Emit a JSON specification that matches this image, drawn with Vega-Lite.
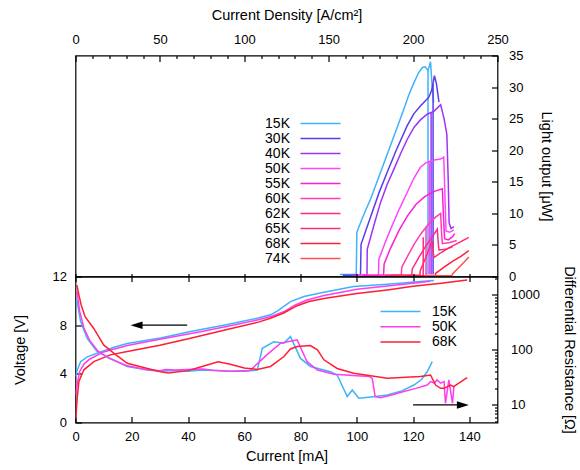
{
  "$schema": "https://vega.github.io/schema/vega-lite/v6.json",
  "padding": {"left": 10.5, "top": 6.5, "right": 0, "bottom": 0},
  "spacing": 0,
  "bounds": "flush",
  "config": {
    "view": {"stroke": "#000", "strokeWidth": 1.2},
    "font": "Liberation Sans",
    "axis": {"labelFont": "Liberation Sans", "titleFont": "Liberation Sans", "labelFontSize": 13, "titleFontSize": 14.5, "titleFontWeight": "normal", "labelColor": "#000", "titleColor": "#000", "tickColor": "#000", "tickWidth": 1.2, "domain": false, "grid": false, "labelOverlap": false, "labelFlush": false},
    "legend": {"labelFont": "Liberation Sans", "labelFontSize": 14, "labelColor": "#000", "padding": 0}
  },
  "datasets": {
    "L": [
      {"s":"15K","x":94,"y":0.3},{"s":"15K","x":99.8,"y":0.3},{"s":"15K","x":100,"y":7},{"s":"15K","x":102,"y":9.3},{"s":"15K","x":105,"y":12.4},{"s":"15K","x":108,"y":16},{"s":"15K","x":111,"y":19.6},{"s":"15K","x":114,"y":23.2},{"s":"15K","x":116.7,"y":26.5},{"s":"15K","x":118.5,"y":28.8},{"s":"15K","x":120.3,"y":30.7},{"s":"15K","x":122,"y":32.3},{"s":"15K","x":123.3,"y":33.1},{"s":"15K","x":124.3,"y":33.2},{"s":"15K","x":125.3,"y":32.6},{"s":"15K","x":126.2,"y":34},{"s":"15K","x":126.7,"y":30.5},{"s":"15K","x":127.3,"y":27.6},
      {"s":"15K","g":1,"x":125.3,"y":32.6},{"s":"15K","g":1,"x":125.3,"y":0.3},
      {"s":"30K","x":95,"y":0.2},{"s":"30K","x":101.3,"y":0.2},{"s":"30K","x":101.5,"y":5.1},{"s":"30K","x":105,"y":9.6},{"s":"30K","x":108,"y":13.4},{"s":"30K","x":110.8,"y":16.5},{"s":"30K","x":114,"y":20},{"s":"30K","x":117.9,"y":23.9},{"s":"30K","x":120.3,"y":25.8},{"s":"30K","x":122.6,"y":27},{"s":"30K","x":124.3,"y":27.8},{"s":"30K","x":125.6,"y":28.4},{"s":"30K","x":126.6,"y":29.5},{"s":"30K","x":127.6,"y":31.8},{"s":"30K","x":128.3,"y":30.5},{"s":"30K","x":129.2,"y":27.6},
      {"s":"30K","g":1,"x":127.1,"y":30.5},{"s":"30K","g":1,"x":127.1,"y":0.3},
      {"s":"40K","x":98,"y":0.2},{"s":"40K","x":103.6,"y":0.2},{"s":"40K","x":103.7,"y":4.3},{"s":"40K","x":106,"y":8},{"s":"40K","x":108.4,"y":11.7},{"s":"40K","x":110.8,"y":14.6},{"s":"40K","x":113.2,"y":17},{"s":"40K","x":115.5,"y":19.4},{"s":"40K","x":117.9,"y":21.7},{"s":"40K","x":120.3,"y":23.6},{"s":"40K","x":122.6,"y":24.8},{"s":"40K","x":125,"y":25.7},{"s":"40K","x":127.5,"y":26.2},{"s":"40K","x":129.8,"y":27.2},{"s":"40K","x":131,"y":25},{"s":"40K","x":132,"y":22.5},{"s":"40K","x":132.5,"y":15},{"s":"40K","x":132.8,"y":8.5},{"s":"40K","x":133.5,"y":7.6},{"s":"40K","x":134.5,"y":7.9},
      {"s":"40K","g":1,"x":126.4,"y":25.9},{"s":"40K","g":1,"x":126.4,"y":0.3},
      {"s":"50K","x":100,"y":0.2},{"s":"50K","x":107.7,"y":0.2},{"s":"50K","x":107.8,"y":2.7},{"s":"50K","x":110,"y":5.3},{"s":"50K","x":112,"y":7.5},{"s":"50K","x":115,"y":10.6},{"s":"50K","x":117.9,"y":13.3},{"s":"50K","x":120.3,"y":15.6},{"s":"50K","x":122.6,"y":17.3},{"s":"50K","x":124.5,"y":18},{"s":"50K","x":126.2,"y":18.3},{"s":"50K","x":128,"y":18.5},{"s":"50K","x":129.8,"y":18.6},{"s":"50K","x":130.9,"y":18.9},{"s":"50K","x":131.3,"y":13},{"s":"50K","x":131.7,"y":7.2},{"s":"50K","x":133,"y":7},{"s":"50K","x":134.5,"y":7.4},
      {"s":"50K","g":1,"x":125.8,"y":18.2},{"s":"50K","g":1,"x":125.8,"y":0.3},
      {"s":"55K","x":102,"y":0.2},{"s":"55K","x":109.5,"y":0.2},{"s":"55K","x":109.7,"y":2},{"s":"55K","x":112,"y":4.5},{"s":"55K","x":115,"y":7.3},{"s":"55K","x":118,"y":9.6},{"s":"55K","x":121,"y":11.4},{"s":"55K","x":124,"y":12.6},{"s":"55K","x":127,"y":13.4},{"s":"55K","x":130.4,"y":13.9},{"s":"55K","x":130.8,"y":9.5},{"s":"55K","x":131.2,"y":6},{"s":"55K","x":132.5,"y":5.8},{"s":"55K","x":134,"y":6.3},{"s":"55K","x":134.8,"y":6.8},
      {"s":"60K","x":108,"y":0.2},{"s":"60K","x":115.8,"y":0.2},{"s":"60K","x":116,"y":1.5},{"s":"60K","x":118,"y":3.2},{"s":"60K","x":120.5,"y":5.2},{"s":"60K","x":123,"y":6.9},{"s":"60K","x":125.5,"y":8.3},{"s":"60K","x":128,"y":9.4},{"s":"60K","x":129.8,"y":10},{"s":"60K","x":130.1,"y":7},{"s":"60K","x":130.4,"y":5.2},{"s":"60K","x":133,"y":5.4},{"s":"60K","x":135.5,"y":5.7},
      {"s":"60K","g":1,"x":124.6,"y":7.9},{"s":"60K","g":1,"x":124.6,"y":0.2},
      {"s":"62K","x":110,"y":0.2},{"s":"62K","x":119.5,"y":0.2},{"s":"62K","x":119.7,"y":1.2},{"s":"62K","x":122,"y":3},{"s":"62K","x":124.5,"y":4.8},{"s":"62K","x":127,"y":6.4},{"s":"62K","x":128.6,"y":7.5},{"s":"62K","x":128.9,"y":5.5},{"s":"62K","x":129.2,"y":4.2},{"s":"62K","x":131.5,"y":4.3},{"s":"62K","x":134,"y":4.7},
      {"s":"62K","g":1,"x":123.6,"y":6.2},{"s":"62K","g":1,"x":123.6,"y":0.2},
      {"s":"65K","x":112,"y":0.2},{"s":"65K","x":122.4,"y":0.2},{"s":"65K","x":122.6,"y":1},{"s":"65K","x":124.5,"y":3},{"s":"65K","x":126.8,"y":5.6},{"s":"65K","x":127.1,"y":4},{"s":"65K","x":127.4,"y":3},{"s":"65K","x":130,"y":3.8},{"s":"65K","x":133,"y":4.6},{"s":"65K","x":136.5,"y":5.4},{"s":"65K","x":139.8,"y":6.2},
      {"s":"68K","x":118,"y":0.1},{"s":"68K","x":127.9,"y":0.1},{"s":"68K","x":128,"y":0.5},{"s":"68K","x":131,"y":1.5},{"s":"68K","x":134,"y":2.4},{"s":"68K","x":137,"y":3.2},{"s":"68K","x":139.8,"y":4.1},
      {"s":"74K","x":124,"y":0.1},{"s":"74K","x":133.8,"y":0.1},{"s":"74K","x":134,"y":0.4},{"s":"74K","x":136,"y":1.3},{"s":"74K","x":138,"y":2.2},{"s":"74K","x":139.8,"y":3.1}
    ],
    "V": [
      {"s":"15K","x":0.1,"y":3.8},{"s":"15K","x":0.6,"y":4.3},{"s":"15K","x":1.8,"y":5.0},{"s":"15K","x":4.2,"y":5.4},{"s":"15K","x":8.9,"y":5.8},{"s":"15K","x":14,"y":6.2},{"s":"15K","x":18.4,"y":6.5},{"s":"15K","x":30.2,"y":6.95},{"s":"15K","x":40.9,"y":7.48},{"s":"15K","x":52.7,"y":8.0},{"s":"15K","x":64.6,"y":8.57},{"s":"15K","x":69.3,"y":8.85},{"s":"15K","x":72,"y":9.2},{"s":"15K","x":76.4,"y":9.94},{"s":"15K","x":81.2,"y":10.35},{"s":"15K","x":88.3,"y":10.7},{"s":"15K","x":98.9,"y":11.17},{"s":"15K","x":110.8,"y":11.37},{"s":"15K","x":122.6,"y":11.58},{"s":"15K","x":127.4,"y":11.68},
      {"s":"50K","x":0.1,"y":2.3},{"s":"50K","x":0.6,"y":3.2},{"s":"50K","x":1.5,"y":4.2},{"s":"50K","x":3,"y":4.8},{"s":"50K","x":5,"y":5.2},{"s":"50K","x":10,"y":5.8},{"s":"50K","x":18.4,"y":6.33},{"s":"50K","x":30,"y":6.85},{"s":"50K","x":44.4,"y":7.45},{"s":"50K","x":55,"y":7.95},{"s":"50K","x":65,"y":8.45},{"s":"50K","x":70,"y":8.75},{"s":"50K","x":74,"y":9.1},{"s":"50K","x":77.6,"y":9.6},{"s":"50K","x":82,"y":10.05},{"s":"50K","x":88.3,"y":10.43},{"s":"50K","x":100,"y":10.95},{"s":"50K","x":110,"y":11.2},{"s":"50K","x":120,"y":11.45},{"s":"50K","x":126,"y":11.6},
      {"s":"68K","x":0.1,"y":0.3},{"s":"68K","x":0.6,"y":2},{"s":"68K","x":1.2,"y":3.37},{"s":"68K","x":3,"y":4.33},{"s":"68K","x":6.5,"y":5.0},{"s":"68K","x":12.4,"y":5.56},{"s":"68K","x":18.4,"y":5.83},{"s":"68K","x":30,"y":6.35},{"s":"68K","x":40.9,"y":6.93},{"s":"68K","x":55,"y":7.7},{"s":"68K","x":65,"y":8.25},{"s":"68K","x":69.3,"y":8.57},{"s":"68K","x":74,"y":9},{"s":"68K","x":78.8,"y":9.6},{"s":"68K","x":83,"y":9.95},{"s":"68K","x":88.3,"y":10.2},{"s":"68K","x":100,"y":10.6},{"s":"68K","x":110.8,"y":10.9},{"s":"68K","x":120,"y":11.2},{"s":"68K","x":130,"y":11.45},{"s":"68K","x":139.2,"y":11.72}
    ],
    "R": [
      {"s":"15K","x":0.5,"y":800},{"s":"15K","x":1.8,"y":330},{"s":"15K","x":4.2,"y":160},{"s":"15K","x":7.7,"y":93},{"s":"15K","x":12.4,"y":70},{"s":"15K","x":18.4,"y":50},{"s":"15K","x":25.5,"y":43},{"s":"15K","x":30.2,"y":41},{"s":"15K","x":35,"y":42},{"s":"15K","x":40,"y":41},{"s":"15K","x":45,"y":43},{"s":"15K","x":50,"y":42},{"s":"15K","x":55,"y":41},{"s":"15K","x":60,"y":41},{"s":"15K","x":64.6,"y":43},{"s":"15K","x":66.4,"y":107},{"s":"15K","x":70.5,"y":140},{"s":"15K","x":74,"y":132},{"s":"15K","x":76.4,"y":174},{"s":"15K","x":80,"y":70},{"s":"15K","x":83.5,"y":50},{"s":"15K","x":90.6,"y":40},{"s":"15K","x":93,"y":35},{"s":"15K","x":96.6,"y":14.2},{"s":"15K","x":98.4,"y":18.7},{"s":"15K","x":100.7,"y":13.2},{"s":"15K","x":105,"y":14},{"s":"15K","x":110.8,"y":15.2},{"s":"15K","x":116,"y":18},{"s":"15K","x":120.3,"y":23},{"s":"15K","x":123,"y":29},{"s":"15K","x":125,"y":40},{"s":"15K","x":126.8,"y":61},
      {"s":"50K","x":0.5,"y":1150},{"s":"50K","x":1.5,"y":500},{"s":"50K","x":3,"y":250},{"s":"50K","x":5,"y":150},{"s":"50K","x":8,"y":95},{"s":"50K","x":12,"y":70},{"s":"50K","x":18,"y":52},{"s":"50K","x":25,"y":44},{"s":"50K","x":30,"y":42},{"s":"50K","x":32,"y":44},{"s":"50K","x":35,"y":43},{"s":"50K","x":40,"y":44},{"s":"50K","x":45,"y":45},{"s":"50K","x":50,"y":42},{"s":"50K","x":55,"y":41},{"s":"50K","x":62,"y":42},{"s":"50K","x":68,"y":81},{"s":"50K","x":72.9,"y":132},{"s":"50K","x":78.8,"y":152},{"s":"50K","x":82.3,"y":61},{"s":"50K","x":86,"y":43},{"s":"50K","x":92,"y":36},{"s":"50K","x":100,"y":34},{"s":"50K","x":104.5,"y":33},{"s":"50K","x":105.5,"y":30},{"s":"50K","x":106.5,"y":14.2},{"s":"50K","x":108.4,"y":13.5},{"s":"50K","x":112,"y":15},{"s":"50K","x":116.7,"y":17.5},{"s":"50K","x":121,"y":20},{"s":"50K","x":125,"y":23},{"s":"50K","x":126.2,"y":26.5},{"s":"50K","x":127.5,"y":25},{"s":"50K","x":128.5,"y":28.5},{"s":"50K","x":129.8,"y":24.8},{"s":"50K","x":131,"y":26.5},{"s":"50K","x":131.5,"y":10.7},{"s":"50K","x":132.7,"y":28.5},{"s":"50K","x":134,"y":10.7},{"s":"50K","x":134.5,"y":21.5},
      {"s":"68K","x":0.5,"y":1500},{"s":"68K","x":1.2,"y":1000},{"s":"68K","x":2,"y":660},{"s":"68K","x":3.4,"y":400},{"s":"68K","x":6.5,"y":245},{"s":"68K","x":10,"y":123},{"s":"68K","x":14.5,"y":80},{"s":"68K","x":18.4,"y":57},{"s":"68K","x":25.6,"y":46},{"s":"68K","x":30.2,"y":40},{"s":"68K","x":33,"y":38},{"s":"68K","x":40,"y":42},{"s":"68K","x":45,"y":50},{"s":"68K","x":50.7,"y":61},{"s":"68K","x":55,"y":55},{"s":"68K","x":60,"y":47},{"s":"68K","x":64.6,"y":44},{"s":"68K","x":69.3,"y":50},{"s":"68K","x":74,"y":75},{"s":"68K","x":76.4,"y":104},{"s":"68K","x":78.8,"y":115},{"s":"68K","x":83.5,"y":120},{"s":"68K","x":86,"y":100},{"s":"68K","x":88.3,"y":66},{"s":"68K","x":93,"y":46},{"s":"68K","x":98.9,"y":37.6},{"s":"68K","x":110.8,"y":30.5},{"s":"68K","x":122.6,"y":32.7},{"s":"68K","x":126.2,"y":35},{"s":"68K","x":128,"y":23},{"s":"68K","x":129.8,"y":20},{"s":"68K","x":131,"y":20},{"s":"68K","x":133.3,"y":23},{"s":"68K","x":134.4,"y":21.5},{"s":"68K","x":139.2,"y":31.4}
    ],
    "AV": [{"x1": 39.7, "x2": 22, "xh": 21.7, "y": 8}],
    "AR": [{"x1": 120, "x2": 137.5, "xh": 137.7, "y": 10}]
  },
  "vconcat": [
    {
      "width": 422,
      "height": 221,
      "data": {"name": "L"},
      "mark": {"type": "line", "strokeWidth": 1.5, "clip": true},
      "encoding": {
        "x": {"field": "x", "type": "quantitative", "scale": {"domain": [0, 150], "nice": false, "zero": false},
          "axis": {"orient": "top", "title": "Current Density [A/cm²]", "titlePadding": 8,
            "values": [0,6,12,18,24,30,36,42,48,54,60,66,72,78,84,90,96,102,108,114,120,126,132,138,144,150],
            "labelExpr": "datum.value % 30 === 0 ? format(datum.value*5/3, 'd') : ''",
            "tickSize": {"condition": {"test": "datum.value % 30 === 0", "value": -6}, "value": -3},
            "labelPadding": 15, "labelOverlap": false}},
        "y": {"field": "y", "type": "quantitative", "scale": {"domain": [0, 35], "nice": false},
          "axis": {"orient": "right", "title": "Light output [μW]", "values": [0,5,10,15,20,25,30,35], "tickSize": -6, "labelPadding": 17, "titlePadding": 16, "labelOverlap": false}},
        "color": {"field": "s", "type": "nominal",
          "scale": {"domain": ["15K","30K","40K","50K","55K","60K","62K","65K","68K","74K"],
                    "range": ["#3cb4fa","#5a3ced","#a032f5","#ff46ff","#ff1ed2","#ff3cb4","#ff288c","#ff2d6e","#ff1e3c","#ff5050"]},
          "legend": {"orient": "none", "legendX": 238, "legendY": 61, "title": null, "symbolType": "M-10,0H10", "symbolSize": 16, "symbolStrokeWidth": 1.5, "labelAlign": "right", "labelOffset": -37.5, "rowPadding": 1}},
        "detail": {"field": "g"},
        "order": {"value": null}
      }
    },
    {
      "width": 422,
      "height": 146,
      "layer": [
        {
          "layer": [
            {
              "data": {"name": "V"},
              "mark": {"type": "line", "strokeWidth": 1.5, "clip": true},
              "encoding": {
                "x": {"field": "x", "type": "quantitative", "scale": {"domain": [0, 150], "nice": false},
                  "axis": {"orient": "bottom", "title": "Current [mA]", "values": [0,10,20,30,40,50,60,70,80,90,100,110,120,130,140],
                    "labelExpr": "datum.value % 20 === 0 ? datum.label : ''",
                    "tickSize": {"condition": {"test": "datum.value % 20 === 0", "value": -6}, "value": -3},
                    "labelPadding": 14, "titlePadding": 6, "labelOverlap": false}},
                "y": {"field": "y", "type": "quantitative", "scale": {"domain": [0, 12], "nice": false},
                  "axis": {"orient": "left", "title": "Voltage [V]", "values": [0,2,4,6,8,10,12], "tickSize": -6, "labelPadding": 15, "titlePadding": 25, "labelOverlap": false}},
                "color": {"field": "s", "type": "nominal",
                  "scale": {"domain": ["15K","50K","68K"], "range": ["#3cb4fa","#ff3cf0","#ff1e32"]},
                  "legend": {"orient": "none", "legendX": 318, "legendY": 28, "title": null, "symbolType": "M-10,0H10", "symbolSize": 16, "symbolStrokeWidth": 1.5, "labelOffset": 24.5, "rowPadding": 1.3}},
                "order": {"value": null}
              }
            },
            {
              "data": {"name": "AV"},
              "mark": {"type": "rule", "color": "#000", "strokeWidth": 1.3},
              "encoding": {"x": {"field": "x1", "type": "quantitative"}, "x2": {"field": "x2"}, "y": {"field": "y", "type": "quantitative"}}
            },
            {
              "data": {"name": "AV"},
              "mark": {"type": "point", "shape": "M-1,0L1,-0.62L1,0.62Z", "filled": true, "color": "#000", "opacity": 1, "size": 144},
              "encoding": {"x": {"field": "xh", "type": "quantitative"}, "y": {"field": "y", "type": "quantitative"}}
            }
          ]
        },
        {
          "layer": [
            {
              "data": {"name": "R"},
              "mark": {"type": "line", "strokeWidth": 1.5, "clip": true},
              "encoding": {
                "x": {"field": "x", "type": "quantitative", "scale": {"domain": [0, 150], "nice": false},
                  "axis": {"orient": "top", "title": null, "labels": false, "offset": 3, "values": [0,10,20,30,40,50,60,70,80,90,100,110,120,130,140],
                    "tickSize": {"condition": {"test": "datum.value % 20 === 0", "value": -8}, "value": -6}}},
                "y": {"field": "y", "type": "quantitative", "scale": {"type": "log", "domain": [4.8, 2150], "nice": false},
                  "axis": {"orient": "right", "title": "Differential Resistance [Ω]", "format": "d",
                    "values": [5,6,7,8,9,10,20,30,40,50,60,70,80,90,100,200,300,400,500,600,700,800,900,1000,2000],
                    "labelExpr": "datum.value === 10 || datum.value === 100 || datum.value === 1000 ? datum.label : ''",
                    "tickSize": {"condition": {"test": "datum.value === 10 || datum.value === 100 || datum.value === 1000", "value": -6}, "value": -3},
                    "labelPadding": 19, "titlePadding": 22, "labelOverlap": false}},
                "color": {"field": "s", "type": "nominal",
                  "scale": {"domain": ["15K","50K","68K"], "range": ["#3cb4fa","#ff3cf0","#ff1e32"]},
                  "legend": {"orient": "none", "legendX": 318, "legendY": 28, "title": null, "symbolType": "M-10,0H10", "symbolSize": 16, "symbolStrokeWidth": 1.5, "labelOffset": 24.5, "rowPadding": 1.3}},
                "order": {"value": null}
              }
            },
            {
              "data": {"name": "AR"},
              "mark": {"type": "rule", "color": "#000", "strokeWidth": 1.3},
              "encoding": {"x": {"field": "x1", "type": "quantitative"}, "x2": {"field": "x2"}, "y": {"field": "y", "type": "quantitative"}}
            },
            {
              "data": {"name": "AR"},
              "mark": {"type": "point", "shape": "M1,0L-1,-0.62L-1,0.62Z", "filled": true, "color": "#000", "opacity": 1, "size": 144},
              "encoding": {"x": {"field": "xh", "type": "quantitative"}, "y": {"field": "y", "type": "quantitative"}}
            }
          ]
        }
      ],
      "resolve": {"scale": {"x": "independent", "y": "independent"}}
    }
  ],
  "resolve": {"scale": {"color": "independent"}, "legend": {"color": "independent"}}
}
